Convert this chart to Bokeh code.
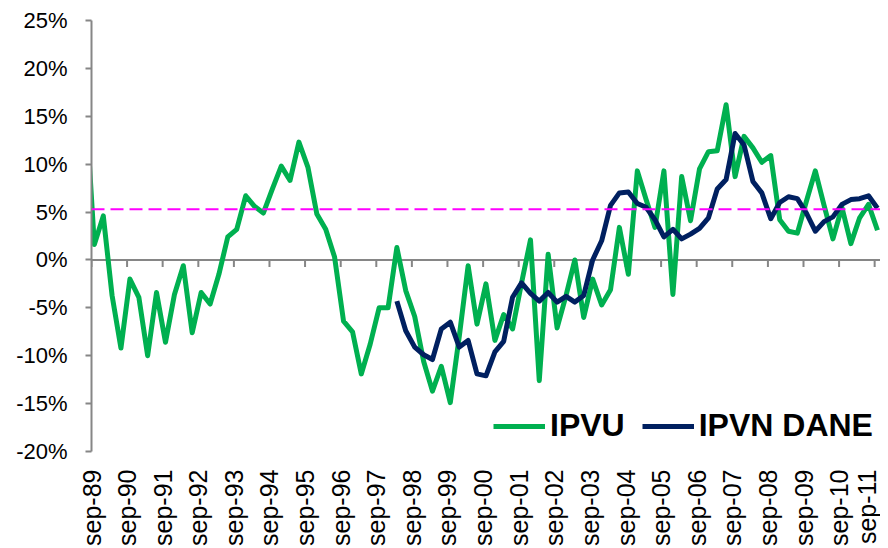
import math
import pandas as pd
from bokeh.plotting import figure
from bokeh.models import FixedTicker, LinearAxis, Span, Legend, LegendItem, Range1d
from bokeh.embed import file_html
from bokeh.resources import INLINE

# Quarter-end dates (jun-89 .. sep-11)
quarter_dates = list(pd.date_range("1989-06-30", "2011-09-30", freq="QE"))

# IPVU annual variation (%), one value per quarter
ipvu = [17.0,
        1.6, 4.6, -3.7, -9.2, -2.0, -3.9, -10.0, -3.4, -8.6, -3.6,
        -0.6, -7.6, -3.4, -4.6, -1.5, 2.4, 3.2, 6.7, 5.6, 4.9,
        7.4, 9.8, 8.3, 12.3, 9.7, 4.8, 3.2, 0.3, -6.4, -7.5,
        -11.9, -8.8, -5.0, -5.0, 1.3, -3.2, -5.9, -10.6, -13.7, -11.1,
        -14.9, -8.0, -0.6, -6.7, -2.5, -8.4, -5.7, -7.2, -2.4, 2.1,
        -12.6, 0.6, -7.1, -3.7, 0.0, -6.0, -2.0, -4.7, -3.1, 3.4,
        -1.5, 9.3, 6.3, 3.4, 9.3, -3.6, 8.7, 4.1, 9.5, 11.3,
        11.4, 16.2, 8.7, 12.9, 11.7, 10.2, 10.9, 4.2, 3.0, 2.8,
        6.1, 9.3, 5.7, 2.2, 5.5, 1.7, 4.4, 5.8, 3.1]

# IPVN DANE annual variation (%), from mar-98
ipvn_start = "1998-03-31"
ipvn = [-4.3, -7.4, -9.1, -9.9, -10.4, -7.2, -6.5, -9.1, -8.4, -11.9,
        -12.1, -9.6, -8.5, -3.9, -2.4, -3.5, -4.3, -3.4, -4.4, -3.8,
        -4.4, -3.7, 0.0, 2.0, 5.7, 7.0, 7.1, 5.9, 5.5, 4.2,
        2.4, 3.2, 2.2, 2.7, 3.3, 4.4, 7.4, 8.4, 13.2, 12.0,
        8.2, 7.0, 4.3, 6.0, 6.6, 6.4, 4.9, 3.0, 4.0, 4.5,
        5.8, 6.3, 6.4, 6.7, 5.4]

mean_ipvu = 5.3

tick_years = list(range(1989, 2012))
tick_labels = ["sep-%02d" % (y % 100) for y in tick_years]
y_ticks = [-20, -15, -10, -5, 0, 5, 10, 15, 20, 25]
y_labels = ["%d%%" % v for v in y_ticks]

origin = pd.Timestamp("1989-09-01")
def days(d):
    return (pd.Timestamp(d) - origin).days

x_ipvu = [days(d) for d in quarter_dates]
start_idx = [str(d.date()) for d in quarter_dates].index(ipvn_start)
x_ipvn = x_ipvu[start_idx:start_idx + len(ipvn)]
tick_pos = [days("%d-09-01" % y) for y in tick_years]

p = figure(width=880, height=548, x_range=Range1d(0, 8095), y_range=Range1d(-20, 25),
           output_backend="svg", toolbar_location=None,
           min_border_left=91, min_border_right=0, min_border_top=20, min_border_bottom=97,
           x_axis_type=None, y_axis_type=None)
p.outline_line_color = None
p.background_fill_color = "white"
p.border_fill_color = "white"

FONT = "Liberation Sans"
GRAY = "#868686"

# y axis
yax = LinearAxis(ticker=FixedTicker(ticks=y_ticks),
                 major_label_overrides={v: l for v, l in zip(y_ticks, y_labels)})
yax.axis_line_color = GRAY
yax.axis_line_width = 2
yax.major_tick_line_color = GRAY
yax.major_tick_line_width = 2
yax.major_tick_out = 6
yax.major_tick_in = 0
yax.minor_tick_line_color = None
yax.major_label_text_font = FONT
yax.major_label_text_font_size = "22px"
yax.major_label_text_color = "black"
yax.major_label_standoff = 18
p.add_layout(yax, "left")

# category labels at the bottom
xax = LinearAxis(ticker=FixedTicker(ticks=tick_pos),
                 major_label_overrides={t: l for t, l in zip(tick_pos, tick_labels)})
xax.axis_line_color = None
xax.major_tick_line_color = None
xax.minor_tick_line_color = None
xax.major_label_orientation = math.pi / 2
xax.major_label_text_font = FONT
xax.major_label_text_font_size = "25px"
xax.major_label_text_color = "black"
xax.major_label_standoff = 12
p.add_layout(xax, "below")

# horizontal axis line crossing at zero, with tick marks
p.add_layout(Span(location=0, dimension="width", line_color=GRAY, line_width=2,
                  level="underlay"))
p.ray(x=tick_pos, y=[0] * len(tick_pos), length=7, length_units="screen",
      angle=-math.pi / 2, line_color=GRAY, line_width=2, level="underlay")

r1 = p.line(x_ipvu, ipvu, line_color="#00B050", line_width=5, line_join="round")
r2 = p.line(x_ipvn, ipvn, line_color="#002060", line_width=5, line_join="round")

p.add_layout(Span(location=mean_ipvu, dimension="width", line_color="#FF00FF",
                  line_width=2, line_dash="13 6"))

legend = Legend(items=[LegendItem(label="IPVU", renderers=[r1]),
                       LegendItem(label="IPVN DANE", renderers=[r2])],
                orientation="horizontal", location=(402, 7))
legend.label_text_font = FONT
legend.label_text_font_size = "32px"
legend.label_text_font_style = "bold"
legend.label_text_color = "black"
legend.glyph_width = 52
legend.label_standoff = 5
legend.spacing = 17
legend.padding = 0
legend.margin = 0
legend.border_line_alpha = 0
legend.background_fill_alpha = 0
p.add_layout(legend)

open("out.html", "w").write(file_html(p, INLINE))
